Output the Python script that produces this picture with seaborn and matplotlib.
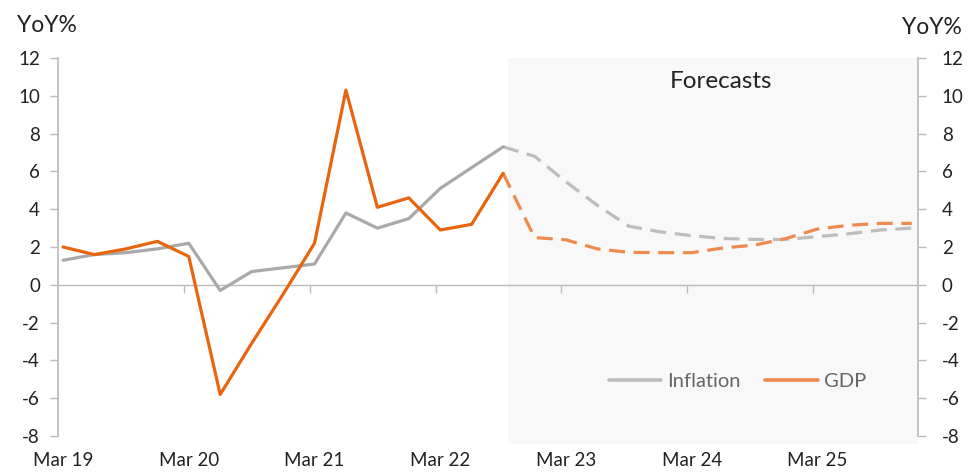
import numpy as np
import pandas as pd
import matplotlib
matplotlib.use("Agg")
import matplotlib.pyplot as plt
from matplotlib.lines import Line2D
import seaborn as sns

quarters = ["Mar 19", "Jun 19", "Sep 19", "Dec 19",
            "Mar 20", "Jun 20", "Sep 20", "Dec 20",
            "Mar 21", "Jun 21", "Sep 21", "Dec 21",
            "Mar 22", "Jun 22", "Sep 22", "Dec 22",
            "Mar 23", "Jun 23", "Sep 23", "Dec 23",
            "Mar 24", "Jun 24", "Sep 24", "Dec 24",
            "Mar 25", "Jun 25", "Sep 25", "Dec 25"]

gdp_actual = [2.0, 1.6, 1.9, 2.3, 1.5, -5.8, -3.1, -0.5, 2.2, 10.3, 4.1, 4.6, 2.9, 3.2, 5.9]
gdp_forecast = [2.5, 2.38, 1.9, 1.72, 1.7, 1.7, 1.95, 2.1, 2.45, 2.95, 3.15, 3.25, 3.25]
infl_actual = [1.3, 1.6, 1.7, 1.9, 2.2, -0.3, 0.7, 0.9, 1.1, 3.8, 3.0, 3.5, 5.1, 6.2, 7.3]
infl_forecast = [6.8, 5.45, 4.2, 3.1, 2.8, 2.6, 2.45, 2.4, 2.4, 2.55, 2.7, 2.9, 3.0]

tick_labels = ["Mar 19", "Mar 20", "Mar 21", "Mar 22", "Mar 23", "Mar 24", "Mar 25"]
y_ticks = [-8, -6, -4, -2, 0, 2, 4, 6, 8, 10, 12]

ORANGE = "#e8650f"
ORANGE_F = "#ee8a4e"
GREY = "#a9a9a9"
GREY_F = "#bdbdbd"

n_act = len(gdp_actual)
idx = np.arange(len(quarters))
act = pd.DataFrame({"x": idx[:n_act], "gdp": gdp_actual, "infl": infl_actual})
# forecast segment starts from last actual point
fc = pd.DataFrame({"x": idx[n_act - 1:],
                   "gdp": [gdp_actual[-1]] + gdp_forecast,
                   "infl": [infl_actual[-1]] + infl_forecast})

sns.set_theme(style="white")
plt.rcParams["font.family"] = ["Lato", "DejaVu Sans"]

fig = plt.figure(figsize=(9.78, 4.73), dpi=100)
ax = fig.add_axes([0.0593, 0.0622, 0.8794, 0.8152])

xlim = (-0.16, 27.2)
ylim = (-8.4, 12)

# forecast shading
ax.axvspan(n_act - 1 + 0.17, xlim[1], color="#f8f8f8", zorder=0, lw=0)

lw = 2.3
sns.lineplot(data=fc, x="x", y="infl", ax=ax, color=GREY_F, lw=lw,
             zorder=3).lines[-1].set_dashes((5, 2.7))
sns.lineplot(data=fc, x="x", y="gdp", ax=ax, color=ORANGE_F, lw=lw,
             zorder=4).lines[-1].set_dashes((5, 2.7))
sns.lineplot(data=act, x="x", y="infl", ax=ax, color=GREY, lw=lw, zorder=5)
sns.lineplot(data=act, x="x", y="gdp", ax=ax, color=ORANGE, lw=lw, zorder=6)

ax.set_xlim(*xlim)
ax.set_ylim(*ylim)
ax.set_xlabel("")
ax.set_ylabel("")

# x labels at bottom
ax.set_xticks([quarters.index(t) for t in tick_labels])
ax.set_xticklabels(tick_labels)
ax.tick_params(axis="x", length=0, pad=6, labelsize=13.5, labelcolor="#222222")
ax.spines["bottom"].set_visible(False)
ax.spines["top"].set_visible(False)

# zero line with tick marks
zero_pos = (0 - ylim[0]) / (ylim[1] - ylim[0])
sec = ax.secondary_xaxis(zero_pos)
sec.set_xticks([quarters.index(t) - 0.15 for t in tick_labels[1:]])
sec.set_xticklabels([])
sec.tick_params(axis="x", length=6, width=1, color="#bbbbbb", direction="out")
sec.spines["bottom"].set_color("#bbbbbb")
sec.spines["bottom"].set_linewidth(1)

# left axis
ax.set_yticks(y_ticks)
ax.set_yticklabels([str(v) for v in y_ticks])
ax.tick_params(axis="y", length=6, width=1, color="#bbbbbb", pad=7,
               labelsize=13.5, labelcolor="#222222", left=True)
ax.spines["left"].set_bounds(-8, 12)
ax.spines["left"].set_color("#bbbbbb")
ax.spines["right"].set_visible(False)

# right axis
ax2 = ax.twinx()
ax2.set_ylim(*ylim)
ax2.set_yticks(y_ticks)
ax2.set_yticklabels([str(v) for v in y_ticks])
ax2.tick_params(axis="y", length=6, width=1, color="#bbbbbb", pad=11,
                labelsize=13.5, labelcolor="#222222", right=True)
ax2.grid(False)
for s in ["top", "left", "bottom"]:
    ax2.spines[s].set_visible(False)
ax2.spines["right"].set_bounds(-8, 12)
ax2.spines["right"].set_color("#bbbbbb")
ax.grid(False)

# texts
fig.text(17 / 978, 1 - 25 / 473, "YoY%", fontsize=16.5, color="#222222", va="center", ha="left")
fig.text(962 / 978, 1 - 28 / 473, "YoY%", fontsize=16.5, color="#222222", va="center", ha="right")
ax.text(0.771, 0.938, "Forecasts", transform=ax.transAxes, fontsize=17.5,
        color="#222222", ha="center", va="center")

handles = [Line2D([0], [0], color=GREY_F, lw=2.6),
           Line2D([0], [0], color=ORANGE_F, lw=2.6)]
ax.legend(handles, ["Inflation", "GDP"], loc="center", bbox_to_anchor=(0.79, 0.162),
          ncol=2, frameon=False, fontsize=14.5, handlelength=2.6, handletextpad=0.3,
          columnspacing=1.2, labelcolor="#666666")

fig.savefig("out.png", dpi=100)
